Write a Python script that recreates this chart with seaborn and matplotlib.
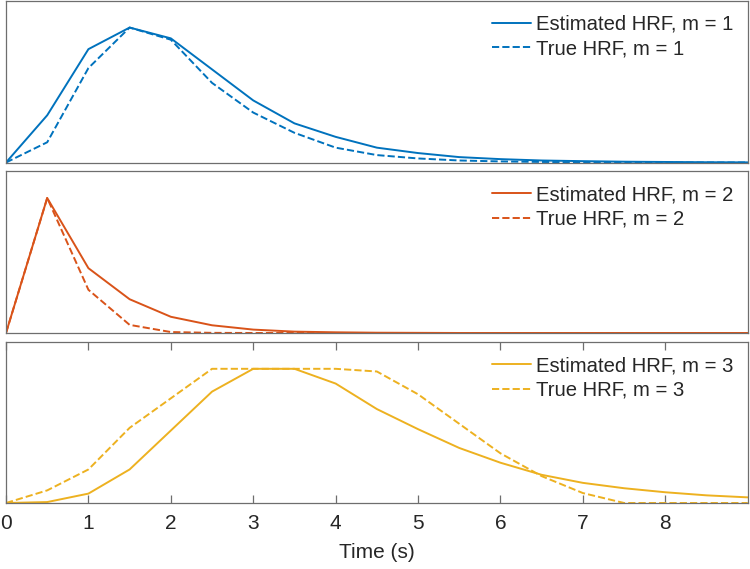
import numpy as np
import pandas as pd
import seaborn as sns
import matplotlib.pyplot as plt

# time axis (s), sampled every 0.5 s
time_s = [0, 0.5, 1, 1.5, 2, 2.5, 3, 3.5, 4, 4.5, 5, 5.5, 6, 6.5, 7, 7.5, 8, 8.5, 9]

# values (normalised so the peak is 1)
est_m1 = [0, 0.35, 0.84, 1.0, 0.92, 0.69, 0.46, 0.29, 0.19, 0.11, 0.07, 0.04, 0.025,
          0.015, 0.01, 0.006, 0.004, 0.002, 0.001]
true_m1 = [0, 0.15, 0.70, 1.0, 0.91, 0.59, 0.37, 0.22, 0.11, 0.055, 0.03, 0.015, 0.008,
           0.004, 0.002, 0.001, 0, 0, 0]

est_m2 = [0, 1.0, 0.48, 0.25, 0.12, 0.057, 0.025, 0.01, 0.005, 0.002, 0.001, 0, 0,
          0, 0, 0, 0, 0, 0]
true_m2 = [0, 1.0, 0.32, 0.06, 0.007, 0.001, 0, 0, 0, 0, 0, 0, 0,
           0, 0, 0, 0, 0, 0]

est_m3 = [0, 0.007, 0.07, 0.25, 0.54, 0.83, 1.0, 1.0, 0.89, 0.70, 0.55, 0.41, 0.30,
          0.21, 0.15, 0.11, 0.08, 0.057, 0.042]
true_m3 = [0, 0.094, 0.25, 0.56, 0.78, 1.0, 1.0, 1.0, 1.0, 0.98, 0.81, 0.59, 0.37,
           0.20, 0.074, 0, 0, 0, 0]

panels = [("1", est_m1, true_m1, "#0072BD"),
          ("2", est_m2, true_m2, "#D95319"),
          ("3", est_m3, true_m3, "#EDB120")]

sns.set_style("white")
plt.rcParams['font.family'] = ['Liberation Sans', 'DejaVu Sans']

fig = plt.figure(figsize=(7.5, 5.69), dpi=100)
boxes = [[0.008, 0.7144, 0.989, 0.2846],
         [0.008, 0.4148, 0.989, 0.2847],
         [0.008, 0.1160, 0.989, 0.2830]]

for i, (m, est, true, col) in enumerate(panels):
    ax = fig.add_axes(boxes[i])
    df = pd.DataFrame({"t": time_s, "est": est, "true": true})
    sns.lineplot(data=df, x="t", y="est", ax=ax, color=col, lw=1.4,
                 label=f"Estimated HRF, m = {m}")
    sns.lineplot(data=df, x="t", y="true", ax=ax, color=col, lw=1.4,
                 linestyle="--", label=f"True HRF, m = {m}")
    ax.set_xlim(0, 9)
    ax.set_ylim(0, 1.2)
    ax.set_yticks([])
    ax.set_ylabel("")
    for s in ax.spines.values():
        s.set_color("#6e6e6e")
        s.set_linewidth(0.9)
    ax.legend(loc="upper right", frameon=False, fontsize=14.6,
              handlelength=1.95, handletextpad=0.25, labelspacing=0.28,
              borderaxespad=0.4, borderpad=0.3)
    if i < 2:
        ax.set_xticks([])
        ax.set_xlabel("")
    else:
        ax.set_xticks(range(0, 9))
        ax.tick_params(axis="x", direction="in", length=6, width=0.9,
                       color="#6e6e6e", top=True, bottom=True,
                       labelsize=15, pad=8)
        ax.set_xlabel("Time (s)", fontsize=15, labelpad=7)

fig.savefig("out.png", dpi=100)
